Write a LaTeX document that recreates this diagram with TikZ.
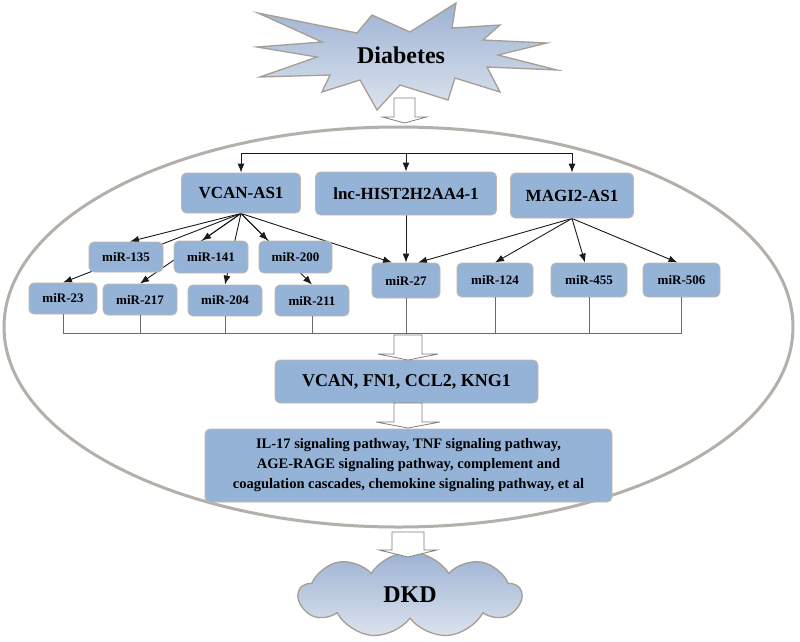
\documentclass[tikz,border=0pt]{standalone}
\usepackage{fontspec}
\setmainfont{Liberation Serif}
\usetikzlibrary{arrows.meta,shapes.geometric,shapes.symbols,calc}
\definecolor{boxfill}{HTML}{95B3D7}
\definecolor{boxborder}{HTML}{C2B8AC}
\definecolor{linec}{HTML}{1A1A1A}
\definecolor{busc}{HTML}{6B6B6B}
\definecolor{ovalc}{HTML}{B5AFAA}
\definecolor{harrowc}{HTML}{7F7F7F}
\definecolor{startop}{HTML}{9DB2D3}
\definecolor{starbot}{HTML}{DCE3ED}
\definecolor{starborder}{HTML}{A69D95}
\pgfdeclarelayer{bg}
\pgfsetlayers{bg,main}
\tikzset{
  box/.style={draw=boxborder, fill=boxfill, rounded corners=5pt, line width=0.9pt,
    inner sep=0pt, align=center, text=black},
  topbox/.style={box, font=\fontsize{17}{20}\selectfont\bfseries},
  mirbox/.style={box, font=\fontsize{13}{15}\selectfont\bfseries},
  arr/.style={draw=linec, line width=0.9pt, -{Latex[length=9pt,width=7pt]}},
  busline/.style={draw=busc, line width=0.8pt},
  harrow/.style n args={3}{draw=harrowc, fill=white, line width=0.8pt,
    to path={let \p1=(\tikztostart), \p2=(\tikztotarget) in
      (\x1-#1,\y1) -- (\x1+#1,\y1) -- (\x1+#1,\y2+#3) -- (\x1+#2,\y2+#3) --
      (\x1,\y2) -- (\x1-#2,\y2+#3) -- (\x1-#1,\y2+#3) -- cycle}},
  burst/.style={draw=starborder, line width=1.3pt, top color=startop, bottom color=starbot, line join=miter},
}
\begin{document}
\begin{tikzpicture}[x=1pt,y=-1pt]
\useasboundingbox (0,0) rectangle (800,641);
\begin{pgfonlayer}{bg}
  \fill[white] (0,0) rectangle (800,641);
  % Oval
  \node[ellipse, draw=ovalc, line width=3pt, minimum width=789pt, minimum height=400pt, inner sep=0pt] (oval) at (398.5,327) {};
\end{pgfonlayer}

% Diabetes starburst
\draw[burst] (258,13) -- (357,33) -- (372,15) -- (410,32) -- (456,3) -- (452,28) -- (500,25) -- (483,40)
  -- (547,43) -- (498,55) -- (557,70) -- (487,67) -- (500,92) -- (455,78) -- (448,100) -- (400,85)
  -- (377,110) -- (360,80) -- (322,92) -- (330,75) -- (260,77) -- (317,57) -- (257,47) -- (322,42) -- cycle;
\node[font=\fontsize{24}{28}\selectfont\bfseries] (dia) at (401,55) {Diabetes};

% top-level boxes
\node[topbox, minimum width=119pt, minimum height=40pt] (vcan) at (241,193) {VCAN-AS1};
\node[topbox, minimum width=181pt, minimum height=43pt] (lnc) at (406,193.5) {lnc-HIST2H2AA4-1};
\node[topbox, minimum width=123pt, minimum height=45pt] (magi) at (572,195.5) {MAGI2-AS1};

% miRNA boxes
\node[mirbox, minimum width=74pt, minimum height=30pt] (m135) at (126,257) {miR-135};
\node[mirbox, minimum width=74pt, minimum height=32pt] (m141) at (211,257) {miR-141};
\node[mirbox, minimum width=73pt, minimum height=32pt] (m200) at (295.5,257) {miR-200};
\node[mirbox, minimum width=68pt, minimum height=31pt] (m23) at (63,298.5) {miR-23};
\node[mirbox, minimum width=74pt, minimum height=31pt] (m217) at (140,299.5) {miR-217};
\node[mirbox, minimum width=74pt, minimum height=31pt] (m204) at (225,300.5) {miR-204};
\node[mirbox, minimum width=74pt, minimum height=31pt] (m211) at (312,300.5) {miR-211};
\node[mirbox, minimum width=68pt, minimum height=35pt] (m27) at (406,280.5) {miR-27};
\node[mirbox, minimum width=76pt, minimum height=34pt] (m124) at (495,280) {miR-124};
\node[mirbox, minimum width=76pt, minimum height=34pt] (m455) at (589,280) {miR-455};
\node[mirbox, minimum width=77pt, minimum height=34pt] (m506) at (681.5,280) {miR-506};

% target genes and pathways
\node[box, minimum width=263pt, minimum height=43pt, font=\fontsize{18}{21}\selectfont\bfseries] (genes) at (406.5,381.5) {VCAN, FN1, CCL2, KNG1};
\node[box, minimum width=407pt, minimum height=73pt, font=\fontsize{14.5}{20}\selectfont\bfseries] (path) at (408.5,465.5)
  {IL-17 signaling pathway, TNF signaling pathway,\\ AGE-RAGE signaling pathway, complement and\\ coagulation cascades, chemokine signaling pathway, et al};

% DKD cloud
\node[cloud, cloud puffs=9, cloud puff arc=115, aspect=2.5, draw=starborder, line width=1.3pt,
  top color=startop, bottom color=starbot, minimum width=222pt, minimum height=86pt, inner sep=0pt,
  font=\fontsize{24}{28}\selectfont\bfseries] (dkd) at (410,595) {DKD};

% connectors (behind boxes)
\coordinate (tb) at (406,153);
\coordinate (bus) at (406,333);
\begin{pgfonlayer}{bg}
  \draw[draw=linec, line width=0.9pt] (vcan.north |- tb) -- (magi.north |- tb);
  \draw[arr] (vcan.north |- tb) -- (vcan.north);
  \draw[arr] (lnc.north |- tb) -- (lnc.north);
  \draw[arr] (magi.north |- tb) -- (magi.north);
  % VCAN-AS1 fan
  \draw[arr] (vcan.south) -- ($(m135.north)+(4,0)$);
  \draw[arr] (vcan.south) -- (m23.north);
  \draw[arr] (vcan.south) -- (m217.north);
  \draw[arr] (vcan.south) -- (intersection of vcan.south--m217.north and m141.north west--m141.north east);
  \draw[arr] (vcan.south) -- (m204.north);
  \draw[arr] (vcan.south) -- (m211.north);
  \draw[arr] (vcan.south) -- (intersection of vcan.south--m211.north and m200.north west--m200.north east);
  \draw[arr] (vcan.south) -- ($(m27.north)+(-14,0)$);
  % lnc
  \draw[arr] (m27.north |- lnc.south) -- (m27.north);
  % MAGI2-AS1 fan
  \draw[arr] (magi.south) -- ($(m27.north)+(12,0)$);
  \draw[arr] (magi.south) -- (m124.north);
  \draw[arr] (magi.south) -- ($(m455.north)+(-4,0)$);
  \draw[arr] (magi.south) -- ($(m506.north)+(-4,0)$);
\end{pgfonlayer}

% bus
\draw[busline] (m23.south) -- (m23.south |- bus) -- (m506.south |- bus) -- (m506.south);
\foreach \m in {m217,m204,m211,m27,m124,m455}
  \draw[busline] (\m.south) -- (\m.south |- bus);

% hollow block arrows
\coordinate (h1s) at (404.5,98);  \coordinate (h1e) at (404.5,123);
\coordinate (h2s) at (408,335);   \coordinate (h2e) at (408,360);
\coordinate (h3s) at (408,403);   \coordinate (h3e) at (408,428);
\coordinate (h4s) at (408,532);   \coordinate (h4e) at (408,557);
\path[harrow={10.5pt}{22pt}{6pt}] (h1s) to (h1e);
\path[harrow={14pt}{30pt}{6pt}] (h2s) to (h2e);
\path[harrow={14pt}{32pt}{6pt}] (h3s) to (h3e);
\path[harrow={16pt}{29pt}{7pt}] (h4s) to (h4e);
\end{tikzpicture}
\end{document}
